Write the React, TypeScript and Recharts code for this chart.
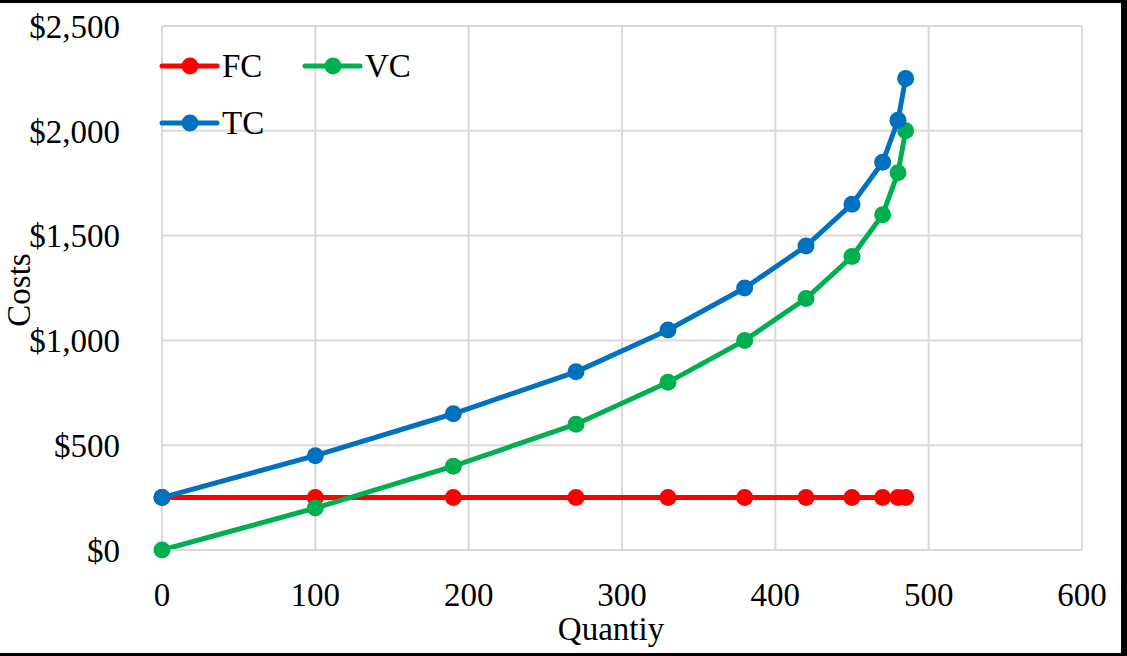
import { LineChart, Line, XAxis, YAxis, CartesianGrid, Label } from 'recharts'

const quantity = [0, 100, 190, 270, 330, 380, 420, 450, 470, 480, 485]
const fixedCost = [250, 250, 250, 250, 250, 250, 250, 250, 250, 250, 250]
const variableCost = [0, 200, 400, 600, 800, 1000, 1200, 1400, 1600, 1800, 2000]
const totalCost = [250, 450, 650, 850, 1050, 1250, 1450, 1650, 1850, 2050, 2250]

const xTicks = [0, 100, 200, 300, 400, 500, 600]
const yTicks = [0, 500, 1000, 1500, 2000, 2500]

const FONT = '"Liberation Serif", "DejaVu Serif", serif'
const FONT_SIZE = 33

const data = quantity.map((q, i) => ({
  q,
  FC: fixedCost[i],
  VC: variableCost[i],
  TC: totalCost[i],
}))

const series = [
  { key: 'FC', color: '#ff0000' },
  { key: 'VC', color: '#00b050' },
  { key: 'TC', color: '#0070c0' },
]

const formatDollar = (v: number) => '$' + v.toLocaleString('en-US')

// two-column legend, FC / VC on the first row and TC below
function CostLegend() {
  return (
    <svg
      width={300}
      height={110}
      style={{ position: 'absolute', left: 162, top: 40, overflow: 'visible', pointerEvents: 'none' }}
    >
      {series.map((s, i) => {
        const x = (i % 2) * 143
        const y = 26 + Math.floor(i / 2) * 57
        return (
          <g key={s.key}>
            <line x1={x} y1={y} x2={x + 55} y2={y} stroke={s.color} strokeWidth={5} strokeLinecap="round" />
            <circle cx={x + 28} cy={y} r={8.5} fill={s.color} />
            <text x={x + 60} y={y + 11} fontFamily={FONT} fontSize={FONT_SIZE} fill="#000">
              {s.key}
            </text>
          </g>
        )
      })}
    </svg>
  )
}

export default function App() {
  return (
    <div style={{ position: 'fixed', left: 0, top: 0, width: 1127, height: 656, background: '#fff' }}>
      <LineChart
        width={1127}
        height={656}
        data={data}
        margin={{ top: 26, right: 45, left: 0, bottom: 0 }}
        style={{ fontFamily: FONT }}
      >
        <CartesianGrid stroke="#d9d9d9" strokeWidth={2} />
        <XAxis
          dataKey="q"
          type="number"
          domain={[0, 600]}
          ticks={xTicks}
          height={106}
          tickLine={false}
          axisLine={{ stroke: '#d9d9d9', strokeWidth: 2 }}
          tickSize={0}
          tickMargin={33}
          tick={{ fontSize: FONT_SIZE, fill: '#000', fontFamily: FONT }}
          interval={0}
        >
          <Label
            content={() => (
              <text x={611} y={640} textAnchor="middle" fontFamily={FONT} fontSize={FONT_SIZE} fill="#000">
                Quantiy
              </text>
            )}
          />
        </XAxis>
        <YAxis
          type="number"
          domain={[0, 2500]}
          ticks={yTicks}
          width={162}
          tickLine={false}
          axisLine={{ stroke: '#d9d9d9', strokeWidth: 2 }}
          tickSize={0}
          tickMargin={42}
          tickFormatter={formatDollar}
          tick={{ fontSize: FONT_SIZE, fill: '#000', fontFamily: FONT }}
          interval={0}
        >
          <Label
            content={() => (
              <text
                x={30}
                y={290}
                transform="rotate(-90 30 290)"
                textAnchor="middle"
                fontFamily={FONT}
                fontSize={FONT_SIZE}
                fill="#000"
              >
                Costs
              </text>
            )}
          />
        </YAxis>
        {series.map((s) => (
          <Line
            key={s.key}
            dataKey={s.key}
            type="linear"
            stroke={s.color}
            strokeWidth={5}
            dot={{ r: 8.5, fill: s.color, stroke: s.color, strokeWidth: 0 }}
            activeDot={false}
            isAnimationActive={false}
          />
        ))}
      </LineChart>
      <CostLegend />
      <div
        style={{
          position: 'absolute',
          left: 0,
          top: 0,
          width: 1127,
          height: 656,
          boxSizing: 'border-box',
          borderTop: '3px solid #000',
          borderRight: '6px solid #000',
          borderBottom: '3px solid #000',
          pointerEvents: 'none',
        }}
      />
    </div>
  )
}
